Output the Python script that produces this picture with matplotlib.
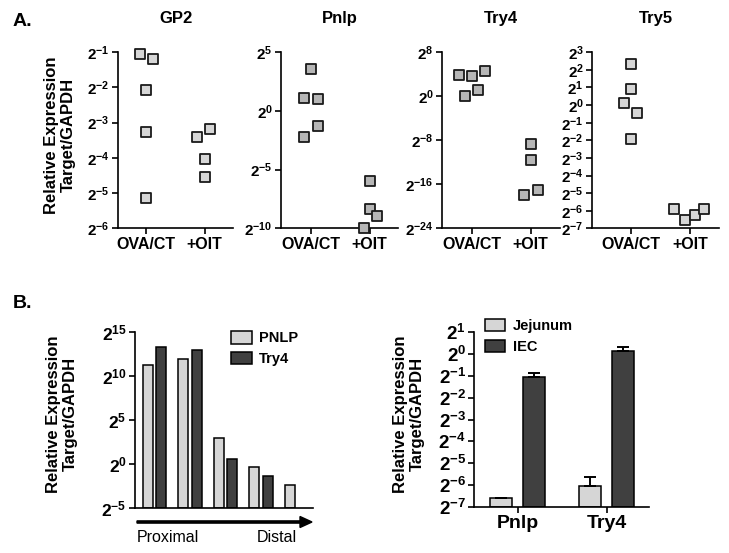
import numpy as np
import matplotlib
matplotlib.use('Agg')
import matplotlib.pyplot as plt
from matplotlib.ticker import FixedLocator, FuncFormatter

plt.rcParams['font.family'] = ['Liberation Sans', 'DejaVu Sans']
plt.rcParams['font.weight'] = 'bold'
plt.rcParams['mathtext.fontset'] = 'custom'
plt.rcParams['mathtext.rm'] = 'Liberation Sans:bold'
plt.rcParams['mathtext.bf'] = 'Liberation Sans:bold'
plt.rcParams['mathtext.it'] = 'Liberation Sans:bold'

# ---- data (log2 of relative expression) ----
groups_a = ['OVA/CT', '+OIT']

gp2_ova = [-1.04, -1.2, -2.08, -3.26, -5.13]
gp2_oit = [-3.40, -3.19, -4.02, -4.55]
pnlp_ova = [3.6, 1.14, 1.05, -1.28, -2.25]
pnlp_oit = [-6.0, -8.36, -8.98, -9.95]
try4_ova = [3.93, 3.64, 4.65, 0.0, 1.2]
try4_oit = [-8.73, -11.5, -17.94, -17.1]
try5_ova = [2.34, 0.91, 0.14, -0.47, -1.94]
try5_oit = [-5.92, -6.55, -6.23, -5.9]

# horizontal scatter of the points around the group centre
gp2_ova_jit = [-0.10, 0.12, 0, 0, 0]
gp2_oit_jit = [-0.13, 0.09, 0, 0]
pnlp_ova_jit = [0, -0.11, 0.12, 0.12, -0.11]
pnlp_oit_jit = [0, 0, 0.12, -0.10]
try4_ova_jit = [-0.22, 0, 0.22, -0.11, 0.11]
try4_oit_jit = [0, 0, -0.11, 0.13]
try5_ova_jit = [0, 0, -0.11, 0.11, 0]
try5_oit_jit = [-0.26, -0.085, 0.08, 0.24]

regions = ['1', '2', '3', '4', '5']
pnlp_region = [11.28, 11.97, 3.03, -0.34, -2.32]
try4_region = [13.33, 12.95, 0.57, -1.33, np.nan]

genes_b = ['Pnlp', 'Try4']
jejunum = [-6.61, -6.05]
jejunum_err = [0.0, 0.43]
iec = [-1.04, 0.16]
iec_err = [0.18, 0.15]

W, H = 729, 553
fig = plt.figure(figsize=(W / 100, H / 100), dpi=100)


def px_axes(left, top, right, bottom):
    return fig.add_axes([left / W, 1 - bottom / H, (right - left) / W, (bottom - top) / H])


def pow2(v, pos):
    return '$2^{%d}$' % int(round(v))


def style(ax, yticks, fs):
    for s in ['top', 'right']:
        ax.spines[s].set_visible(False)
    for s in ['left', 'bottom']:
        ax.spines[s].set_linewidth(1.2)
    ax.yaxis.set_major_locator(FixedLocator(yticks))
    ax.yaxis.set_major_formatter(FuncFormatter(pow2))
    ax.tick_params(width=1.2, length=4, direction='out', pad=2)
    ax.tick_params(axis='y', labelsize=fs)


light = '#d6d6d6'
mid = '#b6b6b6'
dark = '#404040'

# ---- panel A ----
panels = [
    ('GP2', gp2_ova, gp2_oit, gp2_ova_jit, gp2_oit_jit, (-6, -1), range(-6, 0), light, (118, 233)),
    ('Pnlp', pnlp_ova, pnlp_oit, pnlp_ova_jit, pnlp_oit_jit, (-10, 5), range(-10, 6, 5), mid, (281, 398)),
    ('Try4', try4_ova, try4_oit, try4_ova_jit, try4_oit_jit, (-24, 8), range(-24, 9, 8), mid, (442, 560)),
    ('Try5', try5_ova, try5_oit, try5_ova_jit, try5_oit_jit, (-7, 3), range(-7, 4), light, (592, 719)),
]
first_tick = {'GP2': 145.7, 'Pnlp': 310.5, 'Try4': 471.7, 'Try5': 630.8}
for name, ova, oit, jo, ji, ylim, yt, col, (l, r) in panels:
    ax = px_axes(l, 52.3, r, 228.3)
    sp = 59.0
    t0 = first_tick[name]
    ax.set_xlim(-(t0 - l) / sp, (r - t0) / sp)
    ax.set_ylim(*ylim)
    ax.scatter(np.array(jo), ova, marker='s', s=48, facecolor=col,
               edgecolor='#1a1a1a', linewidth=1.3, clip_on=False, zorder=3)
    ax.scatter(1 + np.array(ji), oit, marker='s', s=48, facecolor=col,
               edgecolor='#1a1a1a', linewidth=1.3, clip_on=False, zorder=3)
    style(ax, list(yt), 11)
    ax.set_xticks([0, 1])
    ax.set_xticklabels(groups_a, fontsize=11.5, fontweight='bold')
    ax.set_title(name, fontsize=12, fontweight='bold', pad=21)

fig.text(60 / W, 1 - 135 / H, 'Relative Expression\nTarget/GAPDH', rotation=90,
         ha='center', va='center', fontsize=12, fontweight='bold', linespacing=1.1)
fig.text(13 / W, 1 - 22 / H, 'A.', fontsize=14, fontweight='bold', va='center')
fig.text(13 / W, 1 - 304 / H, 'B.', fontsize=14, fontweight='bold', va='center')

# ---- panel B left: regions ----
axl = px_axes(135, 332.3, 313, 508.3)
xr = np.arange(len(regions))
sp = 35.5
axl.set_xlim(-(154.3 - 135) / sp, (313 - 154.3) / sp)
axl.set_ylim(-5, 15)
bw = 0.28
b1 = axl.bar(xr - 0.19, np.array(pnlp_region) + 5, bottom=-5, width=bw,
             color=light, edgecolor='black', linewidth=1.1, label='PNLP')
b2 = axl.bar(xr + 0.19, np.array(try4_region) + 5, bottom=-5, width=bw,
             color=dark, edgecolor='black', linewidth=1.1, label='Try4')
style(axl, [-5, 0, 5, 10, 15], 12.5)
axl.set_xticks([])
axl.legend(loc='upper left', bbox_to_anchor=(231 / W, 1 - 331 / H),
           bbox_transform=fig.transFigure, frameon=False, fontsize=10.5,
           handlelength=1.45, handleheight=0.95, handletextpad=0.45,
           borderpad=0, borderaxespad=0, labelspacing=0.45)
fig.text(62 / W, 1 - 414 / H, 'Relative Expression\nTarget/GAPDH', rotation=90,
         ha='center', va='center', fontsize=12, fontweight='bold', linespacing=1.1)
fig.patches.append(matplotlib.patches.FancyArrow(
    137 / W, 1 - 522 / H, 163 / W, 0, width=2.2 / H, head_width=11 / H,
    head_length=12 / W, length_includes_head=False, color='black',
    transform=fig.transFigure, figure=fig))
fig.text(168 / W, 1 - 538 / H, 'Proximal', ha='center', va='center',
         fontsize=11.5, fontweight='normal')
fig.text(277 / W, 1 - 538 / H, 'Distal', ha='center', va='center',
         fontsize=11.5, fontweight='normal')

# ---- panel B right: jejunum vs IEC ----
axr = px_axes(474.3, 332.4, 649.3, 506.7)
xg = np.arange(len(genes_b))
sp = 89.0
axr.set_xlim(-(517.7 - 474.3) / sp, (649.3 - 517.7) / sp)
axr.set_ylim(-7, 1)
bw = 0.25
axr.bar(xg - 0.187, np.array(jejunum) + 7, bottom=-7, width=bw, color=light,
        edgecolor='black', linewidth=1.1, label='Jejunum',
        yerr=[np.zeros(2), jejunum_err], capsize=4,
        error_kw=dict(elinewidth=1.4, capthick=1.4, ecolor='black'))
axr.bar(xg + 0.187, np.array(iec) + 7, bottom=-7, width=bw, color=dark,
        edgecolor='black', linewidth=1.1, label='IEC',
        yerr=[np.zeros(2), iec_err], capsize=4,
        error_kw=dict(elinewidth=1.4, capthick=1.4, ecolor='black'))
style(axr, list(range(-7, 2)), 13.5)
axr.set_xticks(xg)
axr.set_xticklabels(genes_b, fontsize=14, fontweight='bold')
axr.legend(loc='upper left', bbox_to_anchor=(485 / W, 1 - 319 / H),
           bbox_transform=fig.transFigure, frameon=False, fontsize=10.5,
           handlelength=1.4, handleheight=0.85, handletextpad=0.5,
           borderpad=0, borderaxespad=0, labelspacing=0.5)
fig.text(409 / W, 1 - 414 / H, 'Relative Expression\nTarget/GAPDH', rotation=90,
         ha='center', va='center', fontsize=12, fontweight='bold', linespacing=1.1)

fig.savefig('out.png', dpi=100)
